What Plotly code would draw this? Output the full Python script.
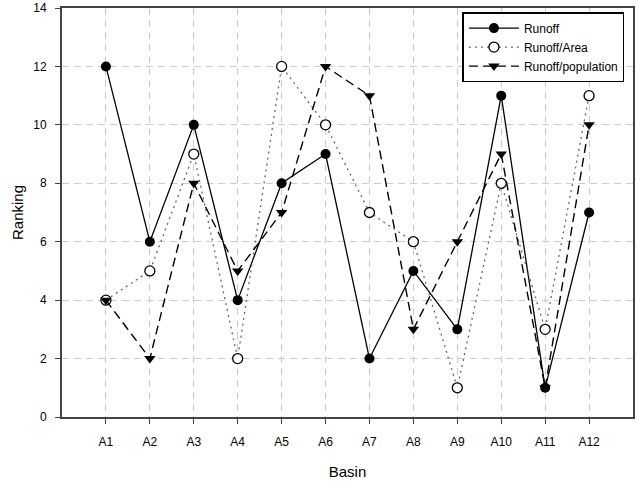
import plotly.graph_objects as go

basins = ["A1","A2","A3","A4","A5","A6","A7","A8","A9","A10","A11","A12"]
runoff = [12, 6, 10, 4, 8, 9, 2, 5, 3, 11, 1, 7]
runoff_area = [4, 5, 9, 2, 12, 10, 7, 6, 1, 8, 3, 11]
runoff_pop = [4, 2, 8, 5, 7, 12, 11, 3, 6, 9, 1, 10]
y_ticks = [0, 2, 4, 6, 8, 10, 12, 14]

xpos = list(range(1, len(basins) + 1))

fig = go.Figure()
fig.add_trace(go.Scatter(x=xpos, y=runoff, name="Runoff", mode="lines+markers",
    line=dict(color="black", width=1.3, dash="solid"),
    marker=dict(symbol="circle", size=10, color="black")))
fig.add_trace(go.Scatter(x=xpos, y=runoff_area, name="Runoff/Area", mode="lines+markers",
    line=dict(color="#666666", width=1.3, dash="2px,4px"),
    marker=dict(symbol="circle", size=10, color="white", line=dict(color="black", width=1.3))))
fig.add_trace(go.Scatter(x=xpos, y=runoff_pop, name="Runoff/population", mode="lines+markers",
    line=dict(color="black", width=1.4, dash="9px,5px"),
    marker=dict(symbol="triangle-down", size=10, color="black")))

axis_common = dict(showline=True, linecolor="#444444", linewidth=2, mirror=True,
                   ticks="outside", ticklen=5, tickcolor="#444444", automargin=False,
                   showgrid=True, gridcolor="#cccccc", griddash="7px,5px", gridwidth=1,
                   zeroline=False, tickfont=dict(size=12, color="black"))

fig.update_layout(
    width=638, height=484,
    margin=dict(l=62, r=5, t=8, b=67),
    paper_bgcolor="white", plot_bgcolor="white",
    font=dict(family="Liberation Sans, Arial, sans-serif", color="black"),
    xaxis=dict(range=[0, 13], tickvals=xpos, ticktext=basins, ticklabelstandoff=8,
               title=dict(text="Basin", font=dict(size=15), standoff=18), **axis_common),
    yaxis=dict(range=[0, 14], tickvals=y_ticks, ticklabelstandoff=6,
               title=dict(text="Ranking", font=dict(size=15), standoff=6), **axis_common),
    legend=dict(x=0.985, y=0.99, xanchor="right", yanchor="top",
                bordercolor="black", borderwidth=1.5, bgcolor="white",
                font=dict(size=12), tracegroupgap=0, itemwidth=50),
    showlegend=True,
)

fig.write_html("out.html")
